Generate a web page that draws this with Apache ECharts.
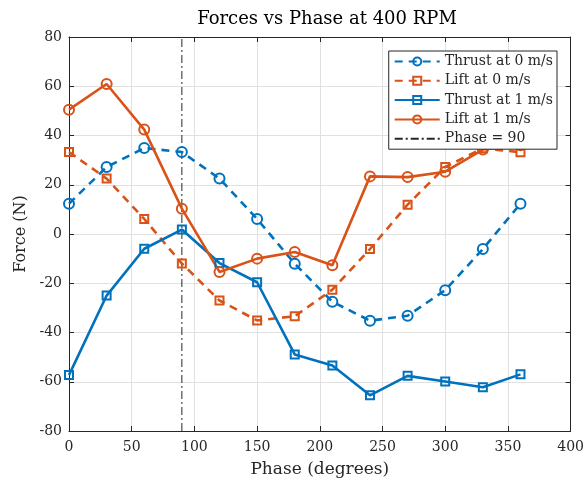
<!DOCTYPE html>
<html>
<head>
<meta charset="utf-8">
<script src="https://cdn.jsdelivr.net/npm/echarts@6/dist/echarts.min.js"></script>
<style>
html,body{margin:0;padding:0;background:#fff;}
#chart{width:587px;height:483px;}
</style>
</head>
<body>
<div id="chart"></div>
<script>
const phase = [0, 30, 60, 90, 120, 150, 180, 210, 240, 270, 300, 330, 360];
const thrust0 = [12.3, 27.2, 34.9, 33.3, 22.5, 6.1, -12.1, -27.5, -35.2, -33.2, -22.8, -6.1, 12.3];
const lift0 = [33.3, 22.5, 6.1, -12.0, -27.0, -35.1, -33.4, -22.6, -6.1, 11.9, 27.2, 34.8, 33.2];
const thrust1 = [-57.3, -25.0, -6.0, 1.8, -11.8, -19.6, -48.9, -53.4, -65.5, -57.6, -59.9, -62.2, -57.0];
const lift1 = [50.5, 60.9, 42.4, 10.3, -15.4, -10.0, -7.3, -12.7, 23.4, 23.1, 25.3, 34.3, 36.0];
const phaseLineX = 90;
const yRange = [-80, 80];
const seriesNames = ['Thrust at 0 m/s', 'Lift at 0 m/s', 'Thrust at 1 m/s', 'Lift at 1 m/s', 'Phase = 90'];

const BLUE = '#0072BD', ORANGE = '#D95319', INK = '#262626';
const FONT = 'DejaVu Serif';
const pairs = (ys) => phase.map((x, i) => [x, ys[i]]);

function mk(name, ys, color, dashed, symbol, size) {
  return {
    name, type: 'line', data: pairs(ys),
    symbol, symbolSize: size, showSymbol: true,
    color,
    lineStyle: { color, width: 2.6, type: dashed ? [8, 6] : 'solid' },
    itemStyle: { color: 'rgba(255,255,255,0)', borderColor: color, borderWidth: 2 },
    emphasis: { disabled: true }, z: 3
  };
}

const chart = echarts.init(document.getElementById('chart'), null, { renderer: 'canvas' });
const axisCommon = { min: 0, max: 400, interval: 50 };
chart.setOption({
  animation: false,
  backgroundColor: '#fff',
  title: {
    text: 'Forces vs Phase at 400 RPM',
    left: 322, top: 5, textAlign: 'center',
    textStyle: { fontFamily: FONT, fontSize: 18, fontWeight: 'normal', color: '#000' }
  },
  grid: { left: 69, right: 15, top: 37, bottom: 51 },
  legend: {
    orient: 'vertical', right: 30, top: 51,
    data: seriesNames.slice(0, 4).concat([{ name: seriesNames[4], itemStyle: { color: 'rgba(0,0,0,0)', borderWidth: 0 } }]),
    backgroundColor: '#fff', borderColor: INK, borderWidth: 1,
    padding: [3, 4, 3, 5], itemGap: 4.3, itemWidth: 45, itemHeight: 10,
    textStyle: { fontFamily: FONT, fontSize: 14, lineHeight: 15, color: INK },
    z: 10
  },
  xAxis: [{
    type: 'value', ...axisCommon,
    name: 'Phase (degrees)', nameLocation: 'middle', nameGap: 30,
    nameTextStyle: { fontFamily: FONT, fontSize: 17, color: INK },
    axisLine: { onZero: false, lineStyle: { color: INK, width: 1 } },
    axisTick: { inside: true, length: 5, lineStyle: { color: INK } },
    axisLabel: { fontFamily: FONT, fontSize: 14, color: INK, margin: 9 },
    splitLine: { show: true, lineStyle: { color: '#e0e0e0', width: 1 } }
  }, {
    type: 'value', ...axisCommon, position: 'top',
    axisLine: { onZero: false, lineStyle: { color: INK, width: 1 } },
    axisTick: { inside: true, length: 5, lineStyle: { color: INK } },
    axisLabel: { show: false }, splitLine: { show: false }
  }],
  yAxis: [{
    type: 'value', min: yRange[0], max: yRange[1], interval: 20,
    name: 'Force (N)', nameLocation: 'middle', nameGap: 39,
    nameTextStyle: { fontFamily: FONT, fontSize: 16, color: INK },
    axisLine: { show: true, onZero: false, lineStyle: { color: INK, width: 1 } },
    axisTick: { show: true, inside: true, length: 5, lineStyle: { color: INK } },
    axisLabel: { fontFamily: FONT, fontSize: 14, color: INK, margin: 7 },
    splitLine: { show: true, lineStyle: { color: '#e0e0e0', width: 1 } }
  }, {
    type: 'value', min: yRange[0], max: yRange[1], interval: 20, position: 'right',
    axisLine: { show: true, onZero: false, lineStyle: { color: INK, width: 1 } },
    axisTick: { show: true, inside: true, length: 5, lineStyle: { color: INK } },
    axisLabel: { show: false }, splitLine: { show: false }
  }],
  series: [
    mk(seriesNames[0], thrust0, BLUE, true, 'circle', 10),
    mk(seriesNames[1], lift0, ORANGE, true, 'rect', 8),
    mk(seriesNames[2], thrust1, BLUE, false, 'rect', 8),
    mk(seriesNames[3], lift1, ORANGE, false, 'circle', 10),
    {
      name: seriesNames[4], type: 'line',
      data: [[phaseLineX, yRange[0]], [phaseLineX, yRange[1]]],
      symbol: 'none', color: INK,
      lineStyle: { color: INK, width: 1, type: [8, 3, 2, 3] },
      itemStyle: { color: 'rgba(0,0,0,0)', borderWidth: 0 },
      emphasis: { disabled: true }, z: 2
    }
  ]
});
</script>
</body>
</html>
